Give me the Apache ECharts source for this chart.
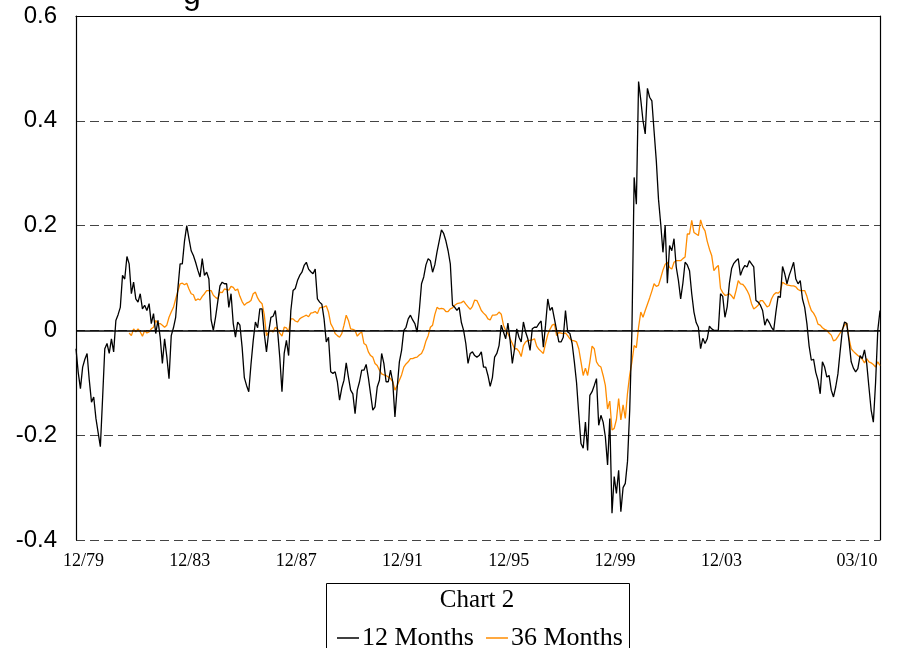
<!DOCTYPE html>
<html>
<head>
<meta charset="utf-8">
<script src="https://cdn.jsdelivr.net/npm/echarts@6/dist/echarts.min.js"></script>
<style>html,body{margin:0;padding:0;background:#fff;}#c{width:911px;height:648px;}</style>
</head>
<body>
<div id="c"></div>
<script>
// Monthly categories 12/79 .. 03/10 (364 months)
const startYear = 1979, startMonth = 12, monthCount = 364;
const categories = [];
for (let k = 0; k < monthCount; k++) {
  const t = startMonth - 1 + k;
  const m = t % 12 + 1, y = (startYear + Math.floor(t / 12)) % 100;
  categories.push((m < 10 ? '0' : '') + m + '/' + (y < 10 ? '0' : '') + y);
}
const tickLabels = ['12/79','12/83','12/87','12/91','12/95','12/99','12/03','03/10'];
const yTicks = [-0.4, -0.2, 0, 0.2, 0.4, 0.6];

const months12 = [
-0.035,-0.08,-0.111,-0.07,-0.055,-0.044,-0.095,-0.137,-0.127,-0.168,-0.195,-0.222,
-0.13,-0.035,-0.025,-0.044,-0.016,-0.041,0.019,0.03,0.044,0.105,0.098,0.141,
0.127,0.07,0.092,0.06,0.054,0.07,0.041,0.048,0.038,0.051,0.013,0.032,
-0.006,0.019,-0.013,-0.063,-0.016,-0.05,-0.092,-0.01,0.005,0.025,0.08,0.127,
0.127,0.171,0.2,0.175,0.152,0.143,0.13,0.115,0.102,0.137,0.105,0.111,
0.098,0.02,0.0,0.025,0.055,0.085,0.092,0.089,0.089,0.044,0.07,0.013,
-0.013,0.016,0.01,-0.032,-0.09,-0.105,-0.117,-0.065,-0.02,0.016,0.005,0.041,
0.041,-0.006,-0.041,-0.003,0.025,0.027,0.038,0.0,-0.051,-0.117,-0.044,-0.019,
-0.048,0.038,0.076,0.08,0.095,0.105,0.111,0.124,0.13,0.117,0.112,0.108,
0.117,0.06,0.054,0.05,0.022,-0.022,-0.013,-0.079,-0.082,-0.079,-0.098,-0.133,
-0.11,-0.095,-0.062,-0.089,-0.114,-0.121,-0.159,-0.114,-0.098,-0.076,-0.076,-0.065,
-0.09,-0.121,-0.152,-0.146,-0.108,-0.095,-0.044,-0.063,-0.098,-0.098,-0.076,-0.098,
-0.165,-0.11,-0.06,-0.038,0.0,0.006,0.022,0.029,0.02,0.013,-0.003,0.038,
0.089,0.102,0.125,0.137,0.133,0.111,0.125,0.15,0.171,0.192,0.185,0.171,
0.152,0.127,0.048,0.044,0.038,0.044,0.015,0.0,-0.025,-0.063,-0.044,-0.041,
-0.048,-0.051,-0.048,-0.041,-0.07,-0.07,-0.086,-0.107,-0.09,-0.051,-0.044,-0.029,
0.01,-0.003,-0.016,0.014,-0.019,-0.063,-0.035,0.003,-0.013,-0.022,0.016,-0.003,
-0.016,-0.038,0.003,0.006,0.006,0.013,0.018,-0.032,0.01,0.06,0.038,0.044,
0.022,0.0,-0.022,-0.022,-0.013,0.038,-0.003,-0.006,-0.025,-0.06,-0.1,-0.16,
-0.216,-0.225,-0.175,-0.229,-0.124,-0.117,-0.105,-0.092,-0.181,-0.162,-0.175,-0.203,
-0.257,-0.168,-0.349,-0.279,-0.311,-0.267,-0.346,-0.3,-0.292,-0.25,-0.152,0.0,
0.292,0.241,0.475,0.44,0.4,0.375,0.462,0.445,0.438,0.38,0.324,0.25,
0.203,0.149,0.2,0.09,0.162,0.152,0.175,0.121,0.095,0.06,0.09,0.13,
0.125,0.114,0.07,0.035,0.015,0.006,-0.035,-0.015,-0.025,-0.016,0.008,0.003,
0.0,0.0,0.0,0.07,0.065,0.025,0.045,0.09,0.118,0.128,0.133,0.137,
0.105,0.117,0.124,0.121,0.133,0.127,0.121,0.057,0.054,0.048,0.038,0.01,
0.022,0.015,0.006,0.0,0.035,0.065,0.063,0.122,0.108,0.089,0.105,0.117,
0.13,0.098,0.089,0.095,0.06,0.044,0.013,-0.03,-0.057,-0.055,-0.08,-0.095,
-0.121,-0.06,-0.07,-0.089,-0.086,-0.114,-0.127,-0.108,-0.083,-0.04,0.0,0.016,
0.013,-0.02,-0.06,-0.072,-0.079,-0.073,-0.048,-0.054,-0.037,-0.063,-0.108,-0.152,
-0.175,-0.1,0.0,0.038
];

const months36 = [
null,null,null,null,null,null,null,null,null,null,null,null,
null,null,null,null,null,null,null,null,null,null,null,null,
-0.005,-0.01,0.003,-0.003,0.003,-0.003,-0.011,0.0,-0.005,-0.003,0.003,0.006,
0.019,0.013,0.013,0.01,0.006,0.01,0.025,0.035,0.044,0.06,0.075,0.089,
0.09,0.087,0.09,0.079,0.07,0.068,0.057,0.06,0.058,0.065,0.07,0.076,
0.076,0.076,0.067,0.063,0.06,0.073,0.072,0.079,0.078,0.077,0.084,0.082,
0.076,0.079,0.065,0.055,0.048,0.052,0.054,0.057,0.07,0.073,0.062,0.055,
0.051,0.03,-0.01,-0.003,0.0,-0.003,0.006,0.003,-0.005,-0.011,0.006,0.005,
-0.003,0.022,0.022,0.018,0.016,0.022,0.025,0.027,0.029,0.026,0.033,0.034,
0.036,0.032,0.043,0.044,0.045,0.047,0.035,0.013,0.005,-0.006,-0.01,-0.013,
-0.006,0.01,0.029,0.019,0.003,0.002,0.0,-0.011,-0.006,-0.003,-0.025,-0.028,
-0.041,-0.048,-0.051,-0.063,-0.067,-0.076,-0.083,-0.085,-0.086,-0.089,-0.092,-0.098,
-0.114,-0.105,-0.095,-0.085,-0.07,-0.064,-0.06,-0.054,-0.054,-0.052,-0.051,-0.047,
-0.044,-0.035,-0.02,-0.01,0.006,0.01,0.03,0.044,0.041,0.042,0.041,0.036,
0.036,0.041,0.043,0.048,0.051,0.052,0.053,0.056,0.05,0.045,0.04,0.046,
0.058,0.057,0.048,0.038,0.033,0.029,0.022,0.02,0.029,0.029,0.03,0.035,
0.031,0.01,0.0,-0.006,-0.016,-0.025,-0.035,-0.035,-0.04,-0.05,-0.029,-0.022,
-0.019,-0.019,-0.018,-0.016,-0.03,-0.036,-0.04,-0.044,-0.025,-0.008,0.002,0.01,
0.012,-0.01,-0.004,-0.005,-0.006,-0.005,-0.01,-0.016,-0.019,-0.02,-0.022,-0.035,
-0.06,-0.086,-0.072,-0.086,-0.06,-0.03,-0.035,-0.06,-0.067,-0.07,-0.086,-0.105,
-0.15,-0.135,-0.19,-0.187,-0.17,-0.13,-0.171,-0.142,-0.168,-0.12,-0.085,-0.06,
-0.029,-0.033,0.006,0.035,0.025,0.038,0.05,0.062,0.075,0.089,0.084,0.086,
0.1,0.115,0.126,0.13,0.12,0.117,0.13,0.133,0.133,0.133,0.137,0.14,
0.184,0.184,0.21,0.187,0.184,0.181,0.211,0.197,0.19,0.17,0.155,0.143,
0.114,0.12,0.124,0.08,0.072,0.067,0.068,0.07,0.066,0.06,0.076,0.095,
0.089,0.088,0.083,0.076,0.067,0.051,0.041,0.044,0.048,0.057,0.057,0.051,
0.045,0.047,0.06,0.068,0.072,0.071,0.075,0.092,0.089,0.087,0.086,0.085,
0.085,0.083,0.078,0.076,0.076,0.076,0.065,0.05,0.038,0.033,0.025,0.012,
0.01,0.005,0.002,0.0,-0.005,-0.009,-0.02,-0.018,-0.012,-0.005,0.002,0.01,
0.014,-0.015,-0.035,-0.04,-0.044,-0.048,-0.051,-0.055,-0.062,-0.054,-0.06,-0.062,
-0.065,-0.07,-0.06,-0.067
];

const chart = echarts.init(document.getElementById('c'), null, {renderer: 'canvas'});
const serif = '"Liberation Serif","Times New Roman",serif';
const sans = '"Liberation Sans",Arial,sans-serif';

const option = {
  animation: false,
  backgroundColor: '#ffffff',
  grid: {left: 76, right: 31, top: 16, bottom: 108, containLabel: false},
  legend: {
    data: ['12 Months', '36 Months'],
    left: 332, top: 620,
    icon: 'rect', itemWidth: 22, itemHeight: 1.5, itemGap: 12,
    textStyle: {fontFamily: serif, fontSize: 26, color: '#000', padding: [0,0,0,-2]},
    selectedMode: false
  },
  xAxis: [{
    type: 'category', data: categories, boundaryGap: false, position: 'bottom',
    axisLine: {show: false, onZero: false},
    axisTick: {show: false},
    splitLine: {show: false},
    axisLabel: {
      interval: function (idx, val) { return tickLabels.indexOf(val) >= 0; },
      showMinLabel: true, showMaxLabel: true, hideOverlap: false,
      margin: 12, color: '#000', fontFamily: serif, fontSize: 18,
      formatter: function (val) { return val === '03/10' ? '{r|' + val + '}' : '{s|' + val + '}'; },
      rich: {
        s: {fontFamily: serif, fontSize: 18, color: '#000', padding: [0, 0, 0, 15]},
        r: {fontFamily: serif, fontSize: 18, color: '#000', padding: [0, 46, 0, 0]}
      }
    }
  }, {
    type: 'category', data: categories, boundaryGap: false, position: 'top',
    axisLine: {show: true, onZero: false, lineStyle: {color: '#000', width: 1.2}},
    axisTick: {show: false}, axisLabel: {show: false}, splitLine: {show: false}
  }],
  yAxis: [{
    type: 'value', min: -0.4, max: 0.6, interval: 0.2, position: 'left',
    axisLine: {show: true, onZero: false, lineStyle: {color: '#000', width: 1.2}},
    axisTick: {show: false},
    splitLine: {show: true, lineStyle: {color: '#444', width: 1, type: [9, 5]}},
    axisLabel: {
      margin: 19, color: '#000', fontFamily: sans, fontSize: 24,
      formatter: function (v) {
        let best = yTicks[0];
        yTicks.forEach(function (t) { if (Math.abs(t - v) < Math.abs(best - v)) best = t; });
        return best === 0 ? '0' : best.toFixed(1);
      }
    }
  }, {
    type: 'value', min: -0.4, max: 0.6, interval: 0.2, position: 'right',
    axisLine: {show: true, onZero: false, lineStyle: {color: '#000', width: 1.2}},
    axisTick: {show: false}, axisLabel: {show: false}, splitLine: {show: false}
  }],
  series: [{
    name: '12 Months', type: 'line', data: months12,
    xAxisIndex: 0, yAxisIndex: 0,
    showSymbol: false, symbol: 'none',
    lineStyle: {color: '#000000', width: 1.3},
    itemStyle: {color: '#000000'},
    z: 3,
    markLine: {
      silent: true, symbol: ['none', 'none'], label: {show: false},
      lineStyle: {color: '#000', type: 'solid', width: 1.5},
      data: [{yAxis: 0}]
    }
  }, {
    name: '36 Months', type: 'line', data: months36,
    xAxisIndex: 0, yAxisIndex: 0,
    showSymbol: false, symbol: 'none', connectNulls: false,
    lineStyle: {color: '#FF8C00', width: 1.3},
    itemStyle: {color: '#FF8C00'},
    z: 2
  }],
  graphic: [
    {type: 'rect', z: 0, shape: {x: 326.5, y: 583.5, width: 303, height: 80},
     style: {fill: '#fff', stroke: '#000', lineWidth: 1}},
    {type: 'text', z: 10, x: 477, y: 600,
     style: {text: 'Chart 2', font: '25px ' + serif, fill: '#000', textAlign: 'center', textVerticalAlign: 'middle'}},
    {type: 'text', z: 10, x: 183, y: -21,
     style: {text: 'g', font: '32px ' + sans, fill: '#000', textAlign: 'left', textVerticalAlign: 'top'}}
  ]
};
chart.setOption(option);
</script>
</body>
</html>
